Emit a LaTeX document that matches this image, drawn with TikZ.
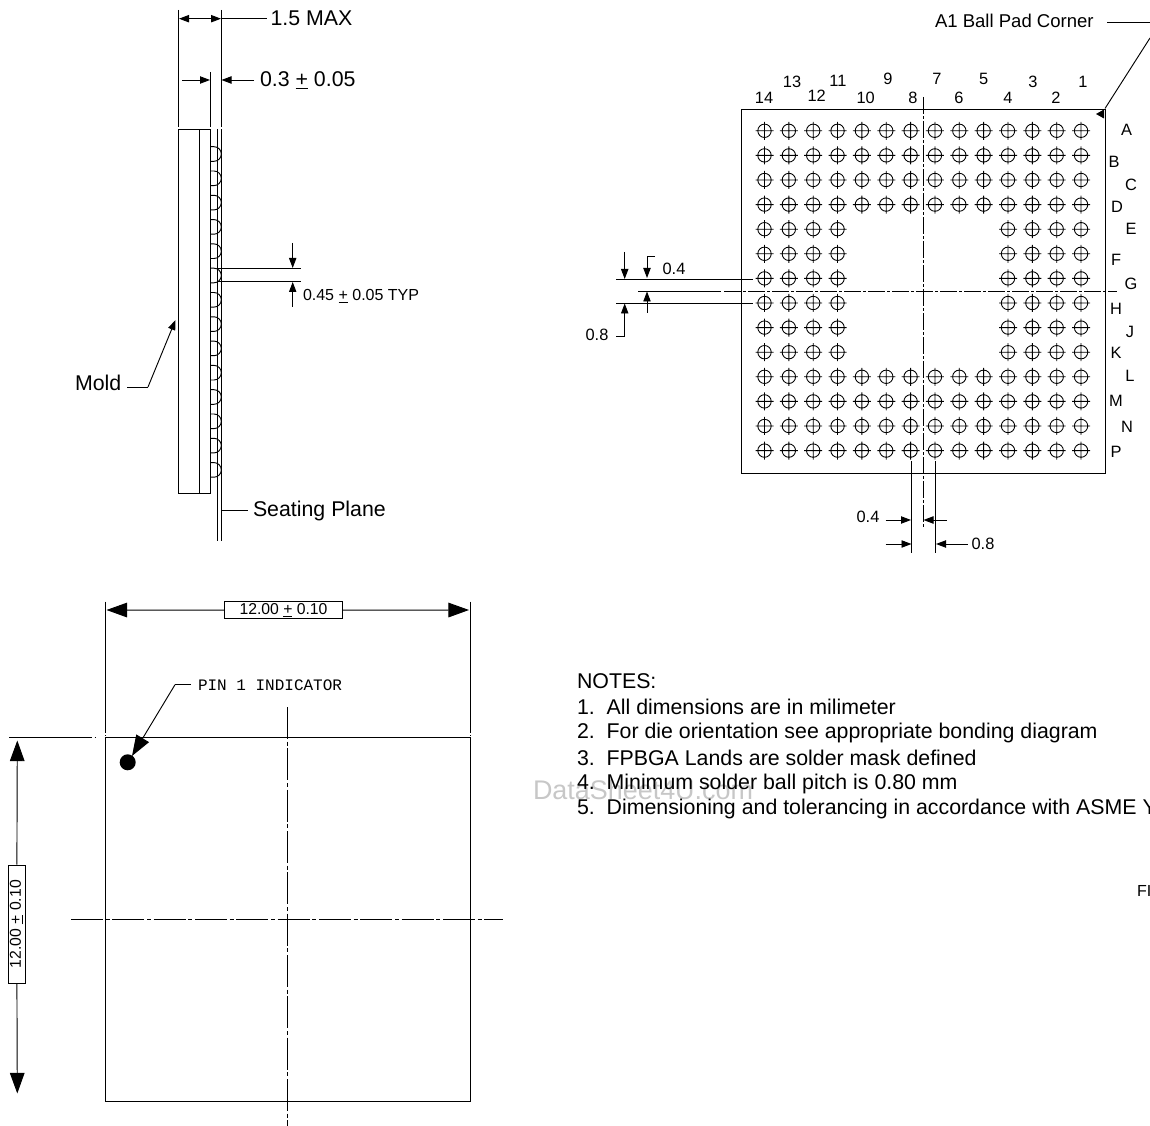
\documentclass[tikz,border=0pt]{standalone}
\usepackage{fontspec}
\setmainfont{Liberation Sans}
\newfontfamily\stroke{Liberation Mono}
\usetikzlibrary{arrows.meta,calc}
\newcommand{\fs}[1]{\fontsize{#1}{#1}\selectfont}
\newcommand{\pmu}{\underline{+}}
\tikzset{
  ln/.style={line width=0.7pt,black},
  sm/.style={ln,-{Triangle[length=7.5pt,width=5.5pt]}},
  bg/.style={ln,-{Triangle[length=15.5pt,width=11pt]}},
  center/.style={ln,dash pattern=on 24pt off 2pt on 3pt off 2pt},
  finecenter/.style={ln,dash pattern=on 12.75pt off 1.5pt on 2.25pt off 1.5pt},
  txt/.style={inner sep=0pt,outer sep=0pt,black},
  big/.style={txt,font=\fs{16}},
  mid/.style={txt,font=\fs{16}},
  num/.style={txt,font=\fs{12.3}},
  small/.style={txt,font=\fs{12}},
  boxed/.style={draw,ln,fill=white,inner sep=0pt,font=\fs{11.8}},
}
\begin{document}
\begin{tikzpicture}[x=0.75pt,y=-0.75pt]
\useasboundingbox (0,0) rectangle (1150,1126);
\clip (0,0) rectangle (1150,1126);
% watermark
\node[txt,anchor=west,text=black!22,font=\fs{20.2}] (wm) at (533,790) {DataSheet4U.com};

% ---------- side view
\draw[ln] (178.5,129.5) rectangle (210.7,493.5);
\draw[ln] (199.4,129.5) -- (199.4,493.5);
\draw[ln] (217,129.5) -- (217,541.5);
\draw[ln] (221.3,129.5) -- (221.3,541.5);
\foreach \i in {0,...,13}{
  \pgfmathsetmacro\yy{154+\i*24.3}
  \draw[ln] (210.7,\yy-7.3) -- (214,\yy-7.3) arc[start angle=-90,end angle=90,radius=7.3] -- (210.7,\yy+7.3);
}
\draw[ln] (178.7,10) -- (178.7,127);
\draw[ln] (221,10) -- (221,127);
\draw[ln] (210.3,72) -- (210.3,127);
\node[big,anchor=west] (maxl) at (270.5,18) {1.5 MAX};
\coordinate (ma) at (179,18.7);
\coordinate (mb) at (221,18.7);
\draw[sm] (200,18.7) -- (ma);
\draw[sm] (200,18.7) -- (mb);
\draw[ln] (mb) -- (267,18.7);
\node[big,anchor=west] (tl) at (260,80.5) {0.3 \pmu{} 0.05};
\draw[sm] (182,80) -- (210,80);
\draw[sm] (254,80) -- (221.5,80);
\draw[ln] (217,268.3) -- (301,268.3);
\draw[ln] (217,281.7) -- (301,281.7);
\draw[sm] (292.7,243) -- (292.7,268);
\draw[sm] (292.7,307) -- (292.7,282);
\node[small,anchor=west] (tb) at (303,296) {0.45 \pmu{} 0.05 TYP};
\node[big,anchor=west] (mold) at (75,383) {Mold};
\coordinate (moldtip) at (175.5,320);
\draw[ln] (127,387) -- (148,387);
\draw[sm] (148,387) -- (moldtip);
\node[big,anchor=west] (seat) at (253,510.5) {Seating Plane};
\draw[ln] (221.3,510) -- (248,510);

% ---------- top view
\draw[ln] (741.5,109) rectangle (1105,473);
\foreach \c in {0,...,13}{\foreach \r in {0,...,13}{
  \pgfmathparse{(\r<4||\r>9||\c<4||\c>9)?1:0}
  \ifdim\pgfmathresult pt>0.5pt
    \pgfmathsetmacro\xx{764.5+\c*24.35}
    \pgfmathsetmacro\yy{130.8+\r*24.6}
    \draw[line width=0.65pt] (\xx,\yy) circle[radius=6.7] (\xx-9,\yy) -- (\xx+9,\yy) (\xx,\yy-9) -- (\xx,\yy+9);
  \fi
}}
\draw[finecenter] (923,97) -- (923,528);
\draw[ln] (638,291) -- (721,291);
\draw[finecenter] (724,291) -- (1117,291);
\foreach \t/\x/\y in {14/764/98,13/792/82,12/816.7/96,11/838/81,10/865.7/98,9/888/79,8/913/98,7/937/79,6/959/98,5/983.7/79,4/1008/98,3/1033/82,2/1056/98,1/1083/82}{
  \node[num] (n\t) at (\x,\y) {\t};
}
\foreach \t/\x/\y in {A/1126.7/130,B/1114/161.7,C/1131/185,D/1117/207,E/1131/229,F/1116/260,G/1131/284,H/1116/309,J/1130/331.5,K/1116/353,L/1130/376,M/1116/401,N/1127/427,P/1116/452}{
  \node[num] (l\t) at (\x,\y) {\t};
}
\node[txt,anchor=west,font=\fs{13.9}] (a1) at (935,21) {A1 Ball Pad Corner};
\draw[ln] (1107,22) -- (1150,22);
\draw[ln] (1150,38) -- (1105,108.5);
\fill (1096,114) -- (1104,109.5) -- (1104,118.5) -- cycle;
% left dims
\draw[ln] (616,279) -- (753,279);
\draw[ln] (616,303.3) -- (753,303.3);
\draw[sm] (624.7,252) -- (624.7,279);
\draw[sm] (616,336) -- (624.7,336) -- (624.7,303.5);
\node[num] (d08) at (597,335) {0.8};
\draw[sm] (655,256.7) -- (647,256.7) -- (647,278);
\draw[sm] (647,312.7) -- (647,291.5);
\node[num] (d04) at (674,269) {0.4};
% bottom dims
\draw[ln] (911,461.5) -- (911,553);
\draw[ln] (935.7,461.5) -- (935.7,553);
\draw[sm] (885.7,520) -- (911,520);
\draw[sm] (946.7,520) -- (923.5,520);
\node[num] (e04) at (868,516.7) {0.4};
\draw[sm] (885.7,544) -- (911.5,544);
\draw[sm] (967.7,544) -- (936,544);
\node[num] (e08) at (983,544) {0.8};

% ---------- bottom view
\draw[ln] (105.5,737) rectangle (470,1101.7);
\draw[ln] (105.5,601.7) -- (105.5,733);
\draw[ln] (470,601.7) -- (470,733);
\draw[ln] (105.5,735) -- (105.5,736);
\draw[ln] (470,735) -- (470,736);
\draw[ln] (9,737) -- (92,737);
\draw[ln] (94.5,737) -- (95.5,737);
\node[boxed,minimum width=88.5pt,minimum height=13pt] (hb) at (283.5,610.3) {12.00 \pmu{} 0.10};
\coordinate (hl) at (106.5,610);
\coordinate (hr) at (469,610);
\draw[bg] (hb) -- (hl);
\draw[bg] (hb) -- (hr);
\node[boxed,minimum width=88.5pt,minimum height=13pt,rotate=90] (vb) at (16.7,924.2) {12.00 \pmu{} 0.10};
\coordinate (vt) at (17.3,740.5);
\coordinate (vd) at (17.3,1093.5);
\draw[bg] (vb) -- (vt);
\draw[bg] (vb) -- (vd);
\node[txt,anchor=west,font=\stroke\fs{12}] (pin) at (198,685) {PIN 1 INDICATOR};
\node[circle,fill=black,minimum size=12pt,inner sep=0pt] (dot) at (127.7,762.3) {};
\draw[ln] (191,684.7) -- (175,684.7);
\draw[bg] (175,684.7) -- (132,756);
\draw[center] (287.7,707) -- (287.7,1126);
\draw[center] (71,919.7) -- (503,919.7);

% ---------- notes
\node[mid,anchor=west] (nt) at (577,681) {NOTES:};
\node[mid,anchor=west] (n1t) at (577,707) {1.\ \ All dimensions are in milimeter};
\node[mid,anchor=west] (n2t) at (577,732.5) {2.\ \ For die orientation see appropriate bonding diagram};
\node[mid,anchor=west] (n3t) at (577,758) {3.\ \ FPBGA Lands are solder mask defined};
\node[mid,anchor=west] (n4t) at (577,783.5) {4.\ \ Minimum solder ball pitch is 0.80 mm};
\node[mid,anchor=west] (n5t) at (577,808.5) {5.\ \ Dimensioning and tolerancing in accordance with ASME Y};
\node[txt,anchor=west,font=\fs{12}] (fig) at (1137,891) {FI};
\end{tikzpicture}
\end{document}
